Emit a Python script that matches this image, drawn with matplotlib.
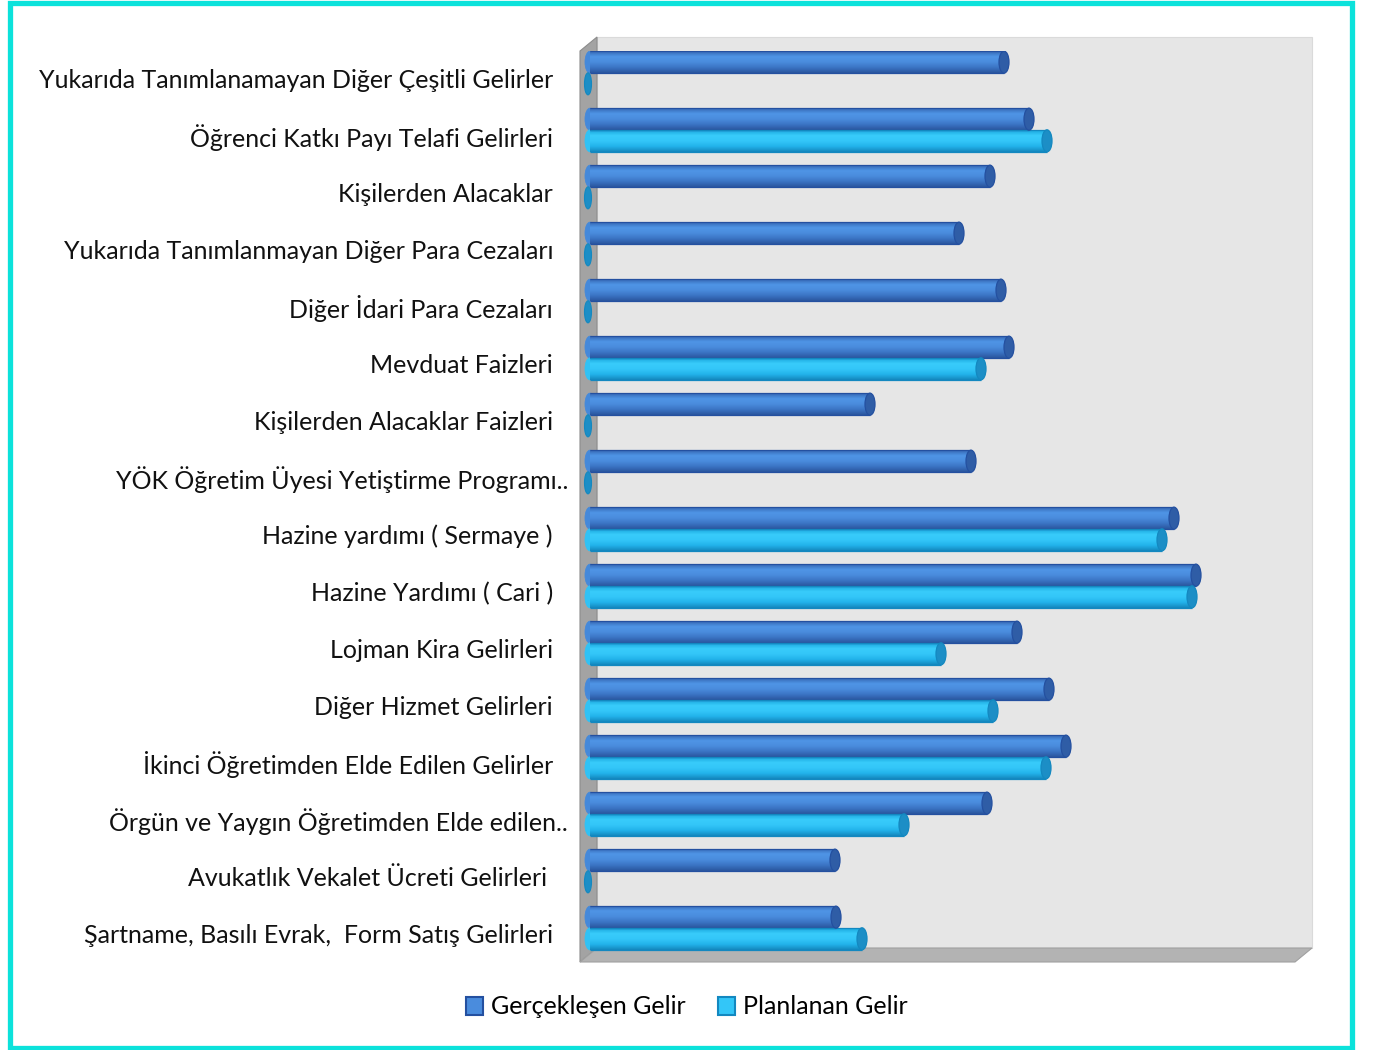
import numpy as np
import matplotlib
matplotlib.use("Agg")
import matplotlib.pyplot as plt
import matplotlib.transforms as mtransforms
from matplotlib.patches import Rectangle, Ellipse, Polygon, Patch
from matplotlib.colors import LinearSegmentedColormap

plt.rcParams['font.family'] = ['Lato', 'DejaVu Sans']

# categories from top to bottom
categories = [
    "Yukarıda Tanımlanamayan Diğer Çeşitli Gelirler",
    "Öğrenci Katkı Payı Telafi Gelirleri",
    "Kişilerden Alacaklar",
    "Yukarıda Tanımlanmayan Diğer Para Cezaları",
    "Diğer İdari Para Cezaları",
    "Mevduat Faizleri",
    "Kişilerden Alacaklar Faizleri",
    "YÖK Öğretim Üyesi Yetiştirme Programı..",
    "Hazine yardımı ( Sermaye )",
    "Hazine Yardımı ( Cari )",
    "Lojman Kira Gelirleri",
    "Diğer Hizmet Gelirleri",
    "İkinci Öğretimden Elde Edilen Gelirler",
    "Örgün ve Yaygın Öğretimden Elde edilen..",
    "Avukatlık Vekalet Ücreti Gelirleri ",
    "Şartname, Basılı Evrak,  Form Satış Gelirleri",
]
# bar lengths (no axis scale shown in the original)
gerceklesen = [424, 449, 410, 379, 421, 429, 290, 391, 594, 616, 437, 469, 486, 407, 255, 256]
planlanan = [0, 467, 0, 0, 0, 401, 0, 0, 582, 612, 361, 413, 466, 324, 0, 282]

series_names = ["Gerçekleşen Gelir", "Planlanan Gelir"]

W, H = 1373, 1050
fig = plt.figure(figsize=(W / 100, H / 100), dpi=100)

# cyan frame around the picture
fig.patches.append(Rectangle((9.5 / W, 2.5 / H), (1352 - 9.5) / W, (1047.5 - 2.5) / H,
                             transform=fig.transFigure, fill=False,
                             edgecolor="#0CE2DB", linewidth=3.8))

# front plane of the plot area in pixels
px_l, px_r, px_t, px_b = 580, 1295, 51, 962
ax = fig.add_axes([px_l / W, 1 - px_b / H, (px_r - px_l) / W, (px_b - px_t) / H])
ax.axis("off")

# 3D walls (depth offset 17 px right, 14 px up)
dxa = 17 / (px_r - px_l)
dya = 14 / (px_b - px_t)
back = Polygon([(dxa, dya), (1 + dxa, dya), (1 + dxa, 1 + dya), (dxa, 1 + dya)],
               closed=True, transform=ax.transAxes, facecolor="#E6E6E6",
               edgecolor="#DADADA", linewidth=0.8, clip_on=False, zorder=0)
left = Polygon([(0, 0), (dxa, dya), (dxa, 1 + dya), (0, 1)], closed=True,
               transform=ax.transAxes, facecolor="#A3A3A3", edgecolor="#8C8C8C",
               linewidth=0.8, clip_on=False, zorder=1)
floor = Polygon([(0, 0), (1, 0), (1 + dxa, dya), (dxa, dya)], closed=True,
                transform=ax.transAxes, facecolor="#B3B3B3", edgecolor="#A0A0A0",
                linewidth=0.8, clip_on=False, zorder=1)
for p in (back, left, floor):
    ax.add_patch(p)

styles = [
    dict(grad=["#3567B3", "#4F95E6", "#4A8CDD", "#3B74C4", "#2A569E"],
         cap="#2F5DA6", edge="#2450A0", start="#4589DA"),
    dict(grad=["#1AA6DD", "#39CCFB", "#33C6F8", "#22B2EA", "#1487BD"],
         cap="#1C8EC6", edge="#1388C0", start="#30C2F5"),
]

bar_h = 22 / 57
offsets = [-0.19, 0.19]
cap_w = 10

for vals, off, st in zip([gerceklesen, planlanan], offsets, styles):
    cmap = LinearSegmentedColormap.from_list("cyl", st["grad"])
    grad = np.linspace(0, 1, 64).reshape(-1, 1)
    for i, v in enumerate(vals):
        c = i + off
        top, bot = c - bar_h / 2, c + bar_h / 2
        if v < cap_w:
            ax.add_patch(Ellipse((3, c), 7, bar_h, facecolor=st["cap"],
                                 edgecolor=st["edge"], linewidth=0.8, zorder=3))
            continue
        x0, x1 = 5, v - cap_w / 2
        ax.add_patch(Ellipse((x0, c), cap_w, bar_h, facecolor=st["start"],
                             edgecolor=st["start"], linewidth=0.6, zorder=3))
        body = Rectangle((x0, top), x1 - x0, bar_h, facecolor="none",
                         edgecolor="none", zorder=5)
        img = ax.imshow(grad, cmap=cmap, extent=(x0, x1, bot, top), aspect="auto",
                        interpolation="bilinear", zorder=4)
        ax.add_patch(body)
        img.set_clip_path(body)
        ax.hlines([top, bot], x0, x1, colors=st["edge"], linewidth=0.9, zorder=5)
        ax.add_patch(Ellipse((x1, c), cap_w, bar_h, facecolor=st["cap"],
                             edgecolor=st["edge"], linewidth=0.9, zorder=6))

ax.set_xlim(-5, px_r - px_l - 5)
ax.set_ylim((px_b - 73) / 57, (px_t - 73) / 57)

# category labels
lab_trans = mtransforms.blended_transform_factory(ax.transAxes, ax.transData)
for i, lab in enumerate(categories):
    right_px = 568 if lab.endswith("..") else 553
    ax.text((right_px - px_l) / (px_r - px_l), i + 0.13, lab, ha="right", va="center",
            fontsize=18, color="#111111", transform=lab_trans, clip_on=False)

handles = [Patch(facecolor=styles[0]["grad"][2], edgecolor=styles[0]["edge"], linewidth=1.5),
           Patch(facecolor=styles[1]["grad"][2], edgecolor=styles[1]["edge"], linewidth=1.5)]
fig.legend(handles, series_names, loc="center", bbox_to_anchor=(0.5, 1 - 1007 / H),
           ncol=2, frameon=False, fontsize=18, handlelength=0.7, handleheight=0.7,
           handletextpad=0.3, columnspacing=1.3)

fig.savefig("out.png", dpi=100)
